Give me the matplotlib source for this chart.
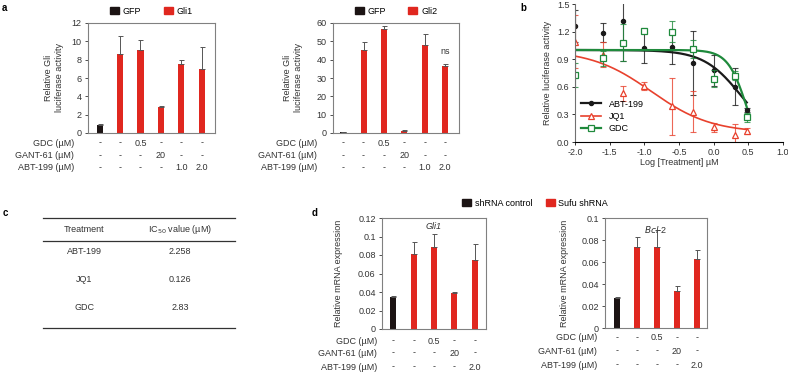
import numpy as np
import matplotlib
matplotlib.use("Agg")
from matplotlib import pyplot as plt
from matplotlib.patches import Patch
from matplotlib.lines import Line2D

plt.rcParams['font.family'] = ['Liberation Sans', 'DejaVu Sans']
plt.rcParams['font.size'] = 6
plt.rcParams['axes.linewidth'] = 0.8

W, H = 788, 373

# ---- panel a data ----
gli1_vals = [0.85, 8.6, 9.1, 2.8, 7.55, 7.0]
gli1_err = [0.1, 2.0, 1.1, 0.15, 0.45, 2.4]
gli2_vals = [0.5, 45.5, 56.5, 1.2, 48.2, 36.3]
gli2_err = [0.2, 4.2, 2.0, 0.2, 5.6, 1.5]
a_gdc = ['-', '-', '0.5', '-', '-', '-']
a_gant = ['-', '-', '-', '20', '-', '-']
a_abt = ['-', '-', '-', '-', '1.0', '2.0']

# ---- panel b data ----
dose_um = [0.01, 0.025, 0.05, 0.1, 0.25, 0.5, 1.0, 2.0, 3.0]
abt_vals = [1.26, 1.19, 1.32, 1.02, 1.03, 0.86, 0.78, 0.60, 0.35]
abt_err = [0.17, 0.10, 0.44, 0.16, 0.18, 0.35, 0.17, 0.20, 0.02]
jq1_vals = [1.09, 0.95, 0.53, 0.61, 0.39, 0.33, 0.16, 0.08, 0.12]
jq1_err = [0.29, 0.14, 0.08, 0.04, 0.31, 0.22, 0.05, 0.12, 0.03]
gdc_vals = [0.73, 0.91, 1.08, 1.21, 1.20, 1.01, 0.69, 0.72, 0.27]
gdc_err = [0.13, 0.08, 0.20, 0.03, 0.11, 0.10, 0.09, 0.05, 0.05]
# 4PL fit parameters: top, bottom, logIC50, hill
abt_fit = (1.0, 0.0, 0.40, 1.6)
jq1_fit = (1.0, 0.10, -0.90, 1.0)
gdc_fit = (1.0, -0.30, 0.49, 3.1)

# ---- panel c data ----
treatments = ['ABT-199', 'JQ1', 'GDC']
ic50 = ['2.258', '0.126', '2.83']

# ---- panel d data ----
d_gli1_vals = [0.035, 0.081, 0.089, 0.039, 0.075]
d_gli1_err = [0.001, 0.013, 0.014, 0.0005, 0.017]
d_bcl2_vals = [0.027, 0.074, 0.074, 0.034, 0.063]
d_bcl2_err = [0.001, 0.009, 0.015, 0.004, 0.008]
d_gdc = ['-', '-', '0.5', '-', '-']
d_gant = ['-', '-', '-', '20', '-']
d_abt = ['-', '-', '-', '-', '2.0']

RED = '#e0271f'
BLACK = '#1c1414'
TXT = '#333333'

fig = plt.figure(figsize=(W / 100, H / 100), dpi=100)


def add_ax(l, t, r, b):
    return fig.add_axes([l / W, 1 - b / H, (r - l) / W, (b - t) / H])


def bar_panel(ax, vals, errs, ylim, yticks, ylabels, xlim, rows, row_dy, label_dx):
    n = len(vals)
    x = np.arange(n)
    colors = [BLACK] + [RED] * (n - 1)
    ax.bar(x, vals, width=0.3, color=colors, zorder=2)
    ax.errorbar(x, vals, yerr=[np.zeros(n), errs], fmt='none', ecolor='#555555',
                elinewidth=0.7, capsize=1.8, capthick=0.7, zorder=3)
    ax.set_xlim(*xlim)
    ax.set_ylim(*ylim)
    ax.set_yticks(yticks)
    ax.set_yticklabels(ylabels)
    ax.set_xticks([])
    ax.tick_params(axis='y', length=2.5, width=0.6, pad=2, labelsize=6.5, colors=TXT)
    for s in ax.spines.values():
        s.set_color('#808080')
        s.set_linewidth(0.8)
    tr = ax.get_xaxis_transform()
    for (name, vals_row), dy in zip(rows, row_dy):
        for i, v in enumerate(vals_row):
            ax.annotate(v, xy=(i, 0), xycoords=tr, xytext=(0, -dy),
                        textcoords='offset pixels', ha='center', va='center',
                        fontsize=6.5, color=TXT)
        ax.annotate(name, xy=(0, 0), xycoords='axes fraction', xytext=(-label_dx, -dy),
                    textcoords='offset pixels', ha='right', va='center',
                    fontsize=6.5, color=TXT)


def row_list(gdc, gant, abt):
    return [('GDC (\u00b5M)', gdc), ('GANT-61 (\u00b5M)', gant), ('ABT-199 (\u00b5M)', abt)]


def sq_legend(ax, labels):
    ax.legend([Patch(color=BLACK), Patch(color=RED)], labels, ncol=2,
              loc='lower center', bbox_to_anchor=(0.5, 1.03), frameon=False,
              fontsize=6.5, handlelength=1.0, handleheight=0.8, columnspacing=2.5,
              handletextpad=0.4, borderaxespad=0)


# ---------- panel a ----------
ax1 = add_ax(88, 23, 215, 133)
bar_panel(ax1, gli1_vals, gli1_err, (0, 12), range(0, 13, 2),
          [str(v) for v in range(0, 13, 2)], (-0.57, 5.65),
          row_list(a_gdc, a_gant, a_abt), (10, 23, 35), 14)
ax1.set_ylabel('Relative Gli\nluciferase activity', fontsize=6.5, color=TXT)
ax1.yaxis.set_label_coords(-0.19, 0.5)
sq_legend(ax1, ['GFP', 'Gli1'])

ax2 = add_ax(333, 23, 459, 133)
bar_panel(ax2, gli2_vals, gli2_err, (0, 60), range(0, 61, 10),
          [str(v) for v in range(0, 61, 10)], (-0.5, 5.68),
          row_list(a_gdc, a_gant, a_abt), (10, 23, 35), 16)
ax2.set_ylabel('Relative Gli\nluciferase activity', fontsize=6.5, color=TXT)
ax2.yaxis.set_label_coords(-0.24, 0.5)
ax2.text(5, gli2_vals[5] + gli2_err[5] + 4, 'ns', ha='center', va='bottom',
         fontsize=6.5, color=TXT)
sq_legend(ax2, ['GFP', 'Gli2'])

# ---------- panel b ----------
axb = add_ax(575, 4, 783, 142)
logx = np.log10(dose_um)
xs = np.linspace(-2.0, np.log10(3.0), 200)


def four_pl(x, p):
    top, bottom, c, h = p
    return bottom + (top - bottom) / (1 + 10 ** (h * (x - c)))


series = [
    ('ABT-199', abt_vals, abt_err, abt_fit, '#1a1a1a', 'o', '#1a1a1a', 1.6),
    ('JQ1', jq1_vals, jq1_err, jq1_fit, '#e8412d', '^', 'white', 1.2),
    ('GDC', gdc_vals, gdc_err, gdc_fit, '#1f8a3c', 's', 'white', 1.6),
]
handles = []
for name, v, e, fitp, col, mk, mfc, lw in series:
    axb.errorbar(logx, v, yerr=e, fmt='none', ecolor=col, elinewidth=0.8,
                 capsize=2.2, capthick=0.8, alpha=0.8, clip_on=True)
    axb.plot(xs, four_pl(xs, fitp), color=col, lw=lw)
    ms = 3 if mk == 'o' else 5
    axb.plot(logx, v, ls='none', marker=mk, ms=ms, mfc=mfc, mec=col, mew=0.9)
    handles.append(Line2D([], [], color=col, lw=lw, marker=mk, ms=ms, mfc=mfc, mec=col, mew=0.9))
axb.set_xlim(-2.0, 1.0)
axb.set_ylim(0, 1.5)
axb.set_xticks(np.arange(-2.0, 1.01, 0.5))
axb.set_xticklabels(['%.1f' % t for t in np.arange(-2.0, 1.01, 0.5)])
axb.set_yticks(np.arange(0, 1.51, 0.3))
axb.set_yticklabels(['%.1f' % t for t in np.arange(0, 1.51, 0.3)])
axb.spines['top'].set_visible(False)
axb.spines['right'].set_visible(False)
axb.spines['left'].set_color('#707070')
axb.tick_params(length=2.5, width=0.7, pad=1.5, labelsize=6.5, colors=TXT)
axb.set_ylabel('Relative luciferase activity', fontsize=6.5, color=TXT)
axb.yaxis.set_label_coords(-0.11, 0.5)
axb.set_xlabel('Log [Treatment] \u00b5M', fontsize=6.5, color=TXT)
axb.xaxis.set_label_coords(0.5, -0.115)
axb.legend(handles, [s[0] for s in series], loc='lower left', bbox_to_anchor=(0.01, 0.04),
           frameon=False, fontsize=6.5, handlelength=2.3, handletextpad=0.8,
           labelspacing=0.35, borderaxespad=0)

# ---------- panel c ----------
axc = add_ax(43, 218, 235, 328)
axc.axis('off')
axc.set_xlim(0, 2)
axc.set_ylim(0, 1)
for yl in (1.0, 0.79, 0.0):
    axc.axhline(yl, color=TXT, lw=0.9, clip_on=False)
axc.text(0.43, 0.9, 'Treatment', ha='center', va='center', fontsize=6.5, color=TXT)
axc.text(1.43, 0.9, 'IC$_{50}$ value (\u00b5M)', ha='center', va='center', fontsize=6.5,
         color=TXT)
row_y = [0.7, 0.445, 0.19]
for t, v, yy in zip(treatments, ic50, row_y):
    axc.text(0.43, yy, t, ha='center', va='center', fontsize=6.5, color=TXT)
    axc.text(1.43, yy, v, ha='center', va='center', fontsize=6.5, color=TXT)

# ---------- panel d ----------
axd1 = add_ax(382, 218, 486, 329)
bar_panel(axd1, d_gli1_vals, d_gli1_err, (0, 0.12), np.arange(0, 0.121, 0.02),
          ['0', '0.02', '0.04', '0.06', '0.08', '0.1', '0.12'], (-0.55, 4.55),
          row_list(d_gdc, d_gant, d_abt), (12, 24, 38), 5)
axd1.set_ylabel('Relative mRNA expression', fontsize=6.5, color=TXT)
axd1.yaxis.set_label_coords(-0.375, 0.5)
axd1.text(0.5, 0.96, 'Gli1', transform=axd1.transAxes, ha='center', va='top',
          fontsize=6.5, style='italic', color=TXT)

axd2 = add_ax(605, 218, 707, 328)
bar_panel(axd2, d_bcl2_vals, d_bcl2_err, (0, 0.1), np.arange(0, 0.101, 0.02),
          ['0', '0.02', '0.04', '0.06', '0.08', '0.1'], (-0.6, 4.5),
          row_list(d_gdc, d_gant, d_abt), (10, 23, 37), 8)
axd2.set_ylabel('Relative mRNA expression', fontsize=6.5, color=TXT)
axd2.yaxis.set_label_coords(-0.35, 0.5)
axd2.text(0.5, 0.95, '$\\it{Bcl}$-2', transform=axd2.transAxes, ha='center', va='top',
          fontsize=6.5, color=TXT)

fig.legend([Patch(color=BLACK), Patch(color=RED)], ['shRNA control', 'Sufu shRNA'],
           ncol=2, loc='center', bbox_to_anchor=(535 / W, 1 - 203 / H), frameon=False,
           fontsize=6.5, handlelength=1.0, handleheight=0.8, columnspacing=1.5,
           handletextpad=0.4, borderaxespad=0)

# panel letters
for lab, px, py in (('a', 2, 8), ('b', 520, 8), ('c', 3, 213), ('d', 312, 213)):
    fig.text(px / W, 1 - py / H, lab, fontsize=7, fontweight='bold', ha='left', va='center')

fig.savefig('out.png', dpi=100)
